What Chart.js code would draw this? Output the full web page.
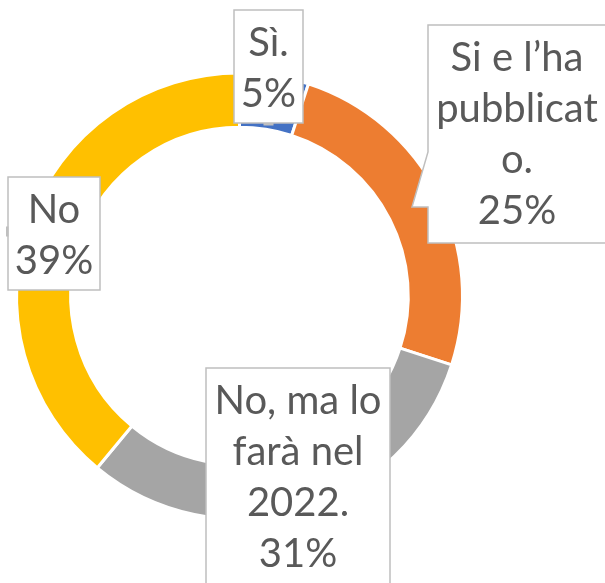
<!DOCTYPE html>
<html><head><meta charset="utf-8">
<script src="https://cdn.jsdelivr.net/npm/chart.js@4/dist/chart.umd.min.js"></script>
<style>html,body{margin:0;padding:0;background:#fff;overflow:hidden}#wrap{position:relative;width:605px;height:583px}</style>
</head><body><div id="wrap"><canvas id="c" width="605" height="583"></canvas></div>
<script>
const categories = ['Sì.', 'Si e l’ha pubblicato.', 'No, ma lo farà nel 2022.', 'No'];
const values = [5, 25, 31, 39];
const colors = ['#4472C4', '#ED7D31', '#A5A5A5', '#FFC000'];

// label box layout (annotation geometry, one per category)
const labelBoxes = [
  {x: 234, y: 10, w: 69, h: 113, notch: 'bottom'},
  {x: 428, y: 25, w: 178, h: 218, pointer: true},
  {x: 206, y: 368, w: 184, h: 240},
  {x: 8, y: 177, w: 92, h: 113, notch: 'left'}
];

const FONT = '40px Lato, "Liberation Sans", sans-serif';

function wrap(ctx, text, maxW) {
  const words = text.split(' ');
  const lines = [];
  let cur = '';
  for (const w of words) {
    const test = cur ? cur + ' ' + w : w;
    if (ctx.measureText(test).width <= maxW) { cur = test; continue; }
    if (cur) { lines.push(cur); cur = ''; }
    let word = w;
    while (ctx.measureText(word).width > maxW && word.length > 1) {
      let i = word.length;
      while (i > 1 && ctx.measureText(word.slice(0, i)).width > maxW) i--;
      lines.push(word.slice(0, i));
      word = word.slice(i);
    }
    cur = word;
  }
  if (cur) lines.push(cur);
  return lines;
}

const labelPlugin = {
  id: 'labelBoxes',
  afterDatasetsDraw(chart) {
    const ctx = chart.ctx;
    const data = chart.data.datasets[0].data;
    ctx.save();
    ctx.font = FONT;
    data.forEach((v, i) => {
      const b = labelBoxes[i];
      ctx.beginPath();
      if (b.pointer) {
        ctx.moveTo(b.x, b.y);
        ctx.lineTo(b.x + b.w, b.y);
        ctx.lineTo(b.x + b.w, b.y + b.h);
        ctx.lineTo(b.x, b.y + b.h);
        ctx.lineTo(b.x, b.y + 182);
        ctx.lineTo(b.x - 16, b.y + 182);
        ctx.lineTo(b.x, b.y + 127);
        ctx.closePath();
      } else {
        ctx.rect(b.x, b.y, b.w, b.h);
      }
      ctx.fillStyle = '#ffffff';
      ctx.fill();
      ctx.lineWidth = 1.5;
      ctx.strokeStyle = '#BFBFBF';
      ctx.stroke();
      ctx.fillStyle = '#BFBFBF';
      if (b.notch === 'bottom') ctx.fillRect(b.x + b.w / 2 - 5, b.y + b.h, 10, 2.5);
      if (b.notch === 'left') ctx.fillRect(b.x - 2, b.y + b.h / 2 - 7, 2.5, 10);

      const lines = wrap(ctx, chart.data.labels[i], b.w - 12);
      lines.push(v + '%');
      ctx.fillStyle = '#595959';
      ctx.textAlign = 'center';
      ctx.textBaseline = 'alphabetic';
      const cx = b.x + b.w / 2;
      lines.forEach((ln, k) => ctx.fillText(ln, cx, b.y + 46 + k * 51));
    });
    ctx.restore();
  }
};

new Chart(document.getElementById('c'), {
  type: 'doughnut',
  data: {
    labels: categories,
    datasets: [{
      data: values,
      backgroundColor: colors,
      borderColor: '#ffffff',
      borderWidth: 3
    }]
  },
  options: {
    responsive: false,
    animation: false,
    events: [],
    radius: 223,
    cutout: 166.5,
    layout: {padding: {left: 18, right: 144, top: 74, bottom: 65}},
    plugins: {legend: {display: false}, tooltip: {enabled: false}}
  },
  plugins: [labelPlugin]
});
</script>
</body></html>
